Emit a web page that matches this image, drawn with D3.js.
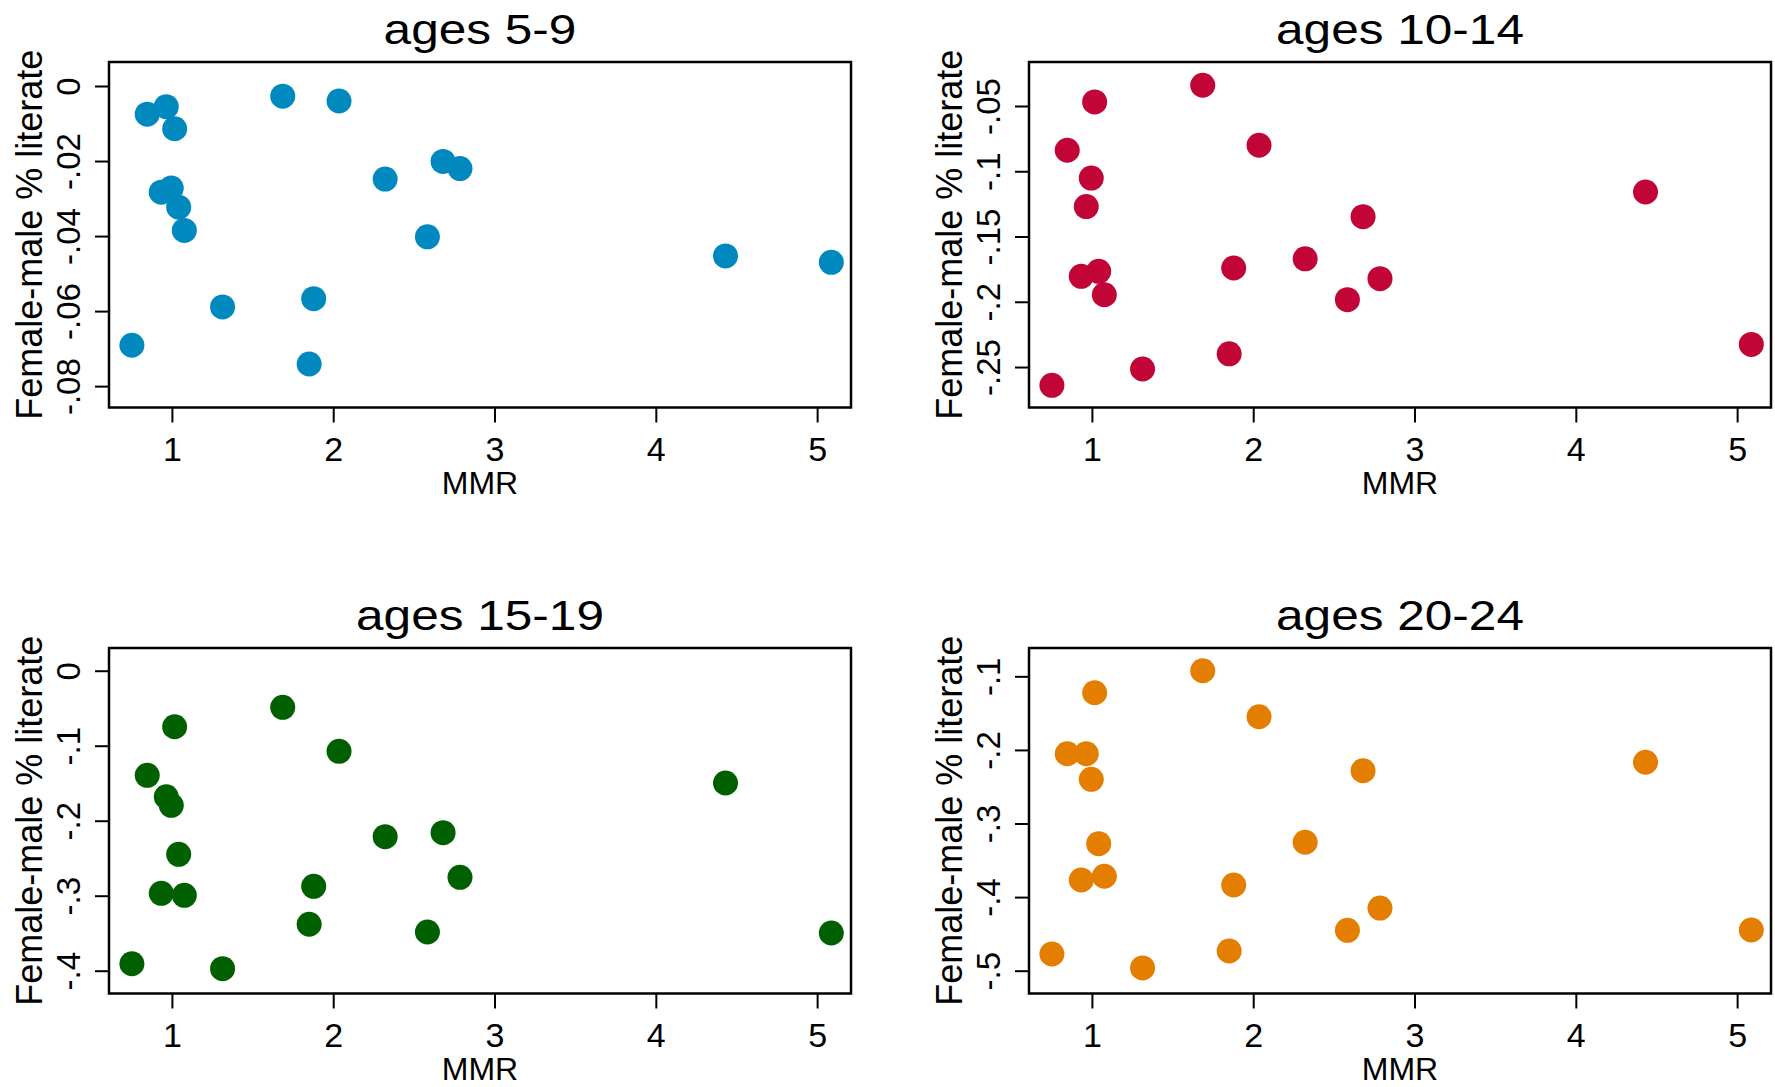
<!DOCTYPE html>
<html>
<head>
<meta charset="utf-8">
<script src="https://cdn.jsdelivr.net/npm/d3@7"></script>
<style>
  body { margin: 0; background: #fff; }
  svg { display: block; font-family: "Liberation Sans", Arial, sans-serif; }
</style>
</head>
<body>
<div id="chart"></div>
<script>
// MMR per country (same for all panels)
const mmr = [0.752, 0.847, 0.934, 0.965, 0.996, 1.017, 1.042, 1.077, 1.314, 1.687,
             1.851, 1.879, 2.036, 2.322, 2.584, 2.681, 2.786, 4.432, 5.088];

// female-male difference in % literate, by age group
const age5_9   = [-0.0691, -0.0075, -0.0283, -0.0055, -0.0272, -0.0114, -0.0323, -0.0385, -0.0589, -0.0027,
                  -0.0741, -0.0567, -0.0040, -0.0248, -0.0402, -0.0201, -0.0220, -0.0453, -0.0470];
const age10_14 = [-0.264, -0.0839, -0.1805, -0.1271, -0.1052, -0.0469, -0.1767, -0.1946, -0.2515, -0.0341,
                  -0.2399, -0.1741, -0.0801, -0.1671, -0.1984, -0.1348, -0.1823, -0.1159, -0.2327];
const age15_19 = [-0.3907, -0.1395, -0.2968, -0.168, -0.1795, -0.0747, -0.2448, -0.2995, -0.3973, -0.0488,
                  -0.3381, -0.2875, -0.1075, -0.2213, -0.3484, -0.216, -0.2755, -0.1497, -0.3497];
const age20_24 = [-0.4773, -0.2052, -0.3768, -0.2052, -0.24, -0.1223, -0.3274, -0.3717, -0.4962, -0.0924,
                  -0.4732, -0.3836, -0.1549, -0.3255, -0.4451, -0.2283, -0.4149, -0.2168, -0.4447];

const titles = ["ages 5-9", "ages 10-14", "ages 15-19", "ages 20-24"];
const colors = ["#0089bf", "#c10537", "#006000", "#e37e00"];
const xTicks = [1, 2, 3, 4, 5];
const yTicks = [
    [0, -0.02, -0.04, -0.06, -0.08],
    [-0.05, -0.1, -0.15, -0.2, -0.25],
    [0, -0.1, -0.2, -0.3, -0.4],
    [-0.1, -0.2, -0.3, -0.4, -0.5]
];
const yLabels = [
    ["0", "-.02", "-.04", "-.06", "-.08"],
    ["-.05", "-.1", "-.15", "-.2", "-.25"],
    ["0", "-.1", "-.2", "-.3", "-.4"],
    ["-.1", "-.2", "-.3", "-.4", "-.5"]
];
const yDomains = [[-0.0857, 0.0064], [-0.281, -0.0163], [-0.4304, 0.0303], [-0.531, -0.0615]];
const series = [age5_9, age10_14, age15_19, age20_24];

const W = 1775, H = 1087;
const boxW = 742, boxH = 345.5;
const origins = [[109, 62], [1029, 62], [109, 648], [1029, 648]];

const svg = d3.select("#chart")
    .append("svg")
        .attr("width", W)
        .attr("height", H);

series.forEach(function(vals, i) {
    const [ox, oy] = origins[i];
    const g = svg.append("g").attr("transform", `translate(${ox}, ${oy})`);

    const x = d3.scaleLinear().domain([0.61, 5.21]).range([0, boxW]);
    const y = d3.scaleLinear().domain(yDomains[i]).range([boxH, 0]);

    // Títol del panell
    g.append("text")
        .attr("transform", `translate(${boxW / 2}, -18) scale(1.18, 1)`)
        .attr("text-anchor", "middle")
        .style("font-size", "42px")
        .text(titles[i]);

    // Eix X
    const xAxis = g.append("g")
        .attr("transform", `translate(0, ${boxH})`)
        .call(d3.axisBottom(x).tickValues(xTicks).tickSize(15).tickPadding(14).tickFormat(d3.format("d")));
    xAxis.select(".domain").remove();
    xAxis.selectAll("line").attr("stroke", "#000").attr("stroke-width", 2);
    xAxis.selectAll("text")
        .style("font-size", "34px")
        .style("font-family", "Liberation Sans, Arial, sans-serif")
        .attr("fill", "#000");

    // Eix Y (etiquetes girades)
    const yAxis = g.append("g")
        .call(d3.axisLeft(y).tickValues(yTicks[i]).tickSize(14).tickFormat((d, j) => yLabels[i][j]));
    yAxis.select(".domain").remove();
    yAxis.selectAll("line").attr("stroke", "#000").attr("stroke-width", 2);
    yAxis.selectAll("text")
        .attr("x", null).attr("dy", null)
        .attr("transform", "translate(-29, 0) rotate(-90)")
        .attr("text-anchor", "middle")
        .style("font-size", "33px")
        .style("font-family", "Liberation Sans, Arial, sans-serif")
        .attr("fill", "#000");

    // Caixa
    g.append("rect")
        .attr("width", boxW)
        .attr("height", boxH)
        .attr("fill", "none")
        .attr("stroke", "#000")
        .attr("stroke-width", 2.5);

    // Títol eix X
    g.append("text")
        .attr("x", boxW / 2)
        .attr("y", boxH + 86)
        .attr("text-anchor", "middle")
        .style("font-size", "32px")
        .text("MMR");

    // Títol eix Y
    g.append("text")
        .attr("transform", `translate(${42 - ox + (i % 2) * 920}, ${boxH / 2}) rotate(-90)`)
        .attr("text-anchor", "middle")
        .style("font-size", "36px")
        .text("Female-male % literate");

    // Punts
    g.append("g")
        .selectAll("circle")
        .data(vals)
        .enter()
        .append("circle")
            .attr("cx", (d, j) => x(mmr[j]))
            .attr("cy", d => y(d))
            .attr("r", 12.5)
            .attr("fill", colors[i]);
});
</script>
</body>
</html>
